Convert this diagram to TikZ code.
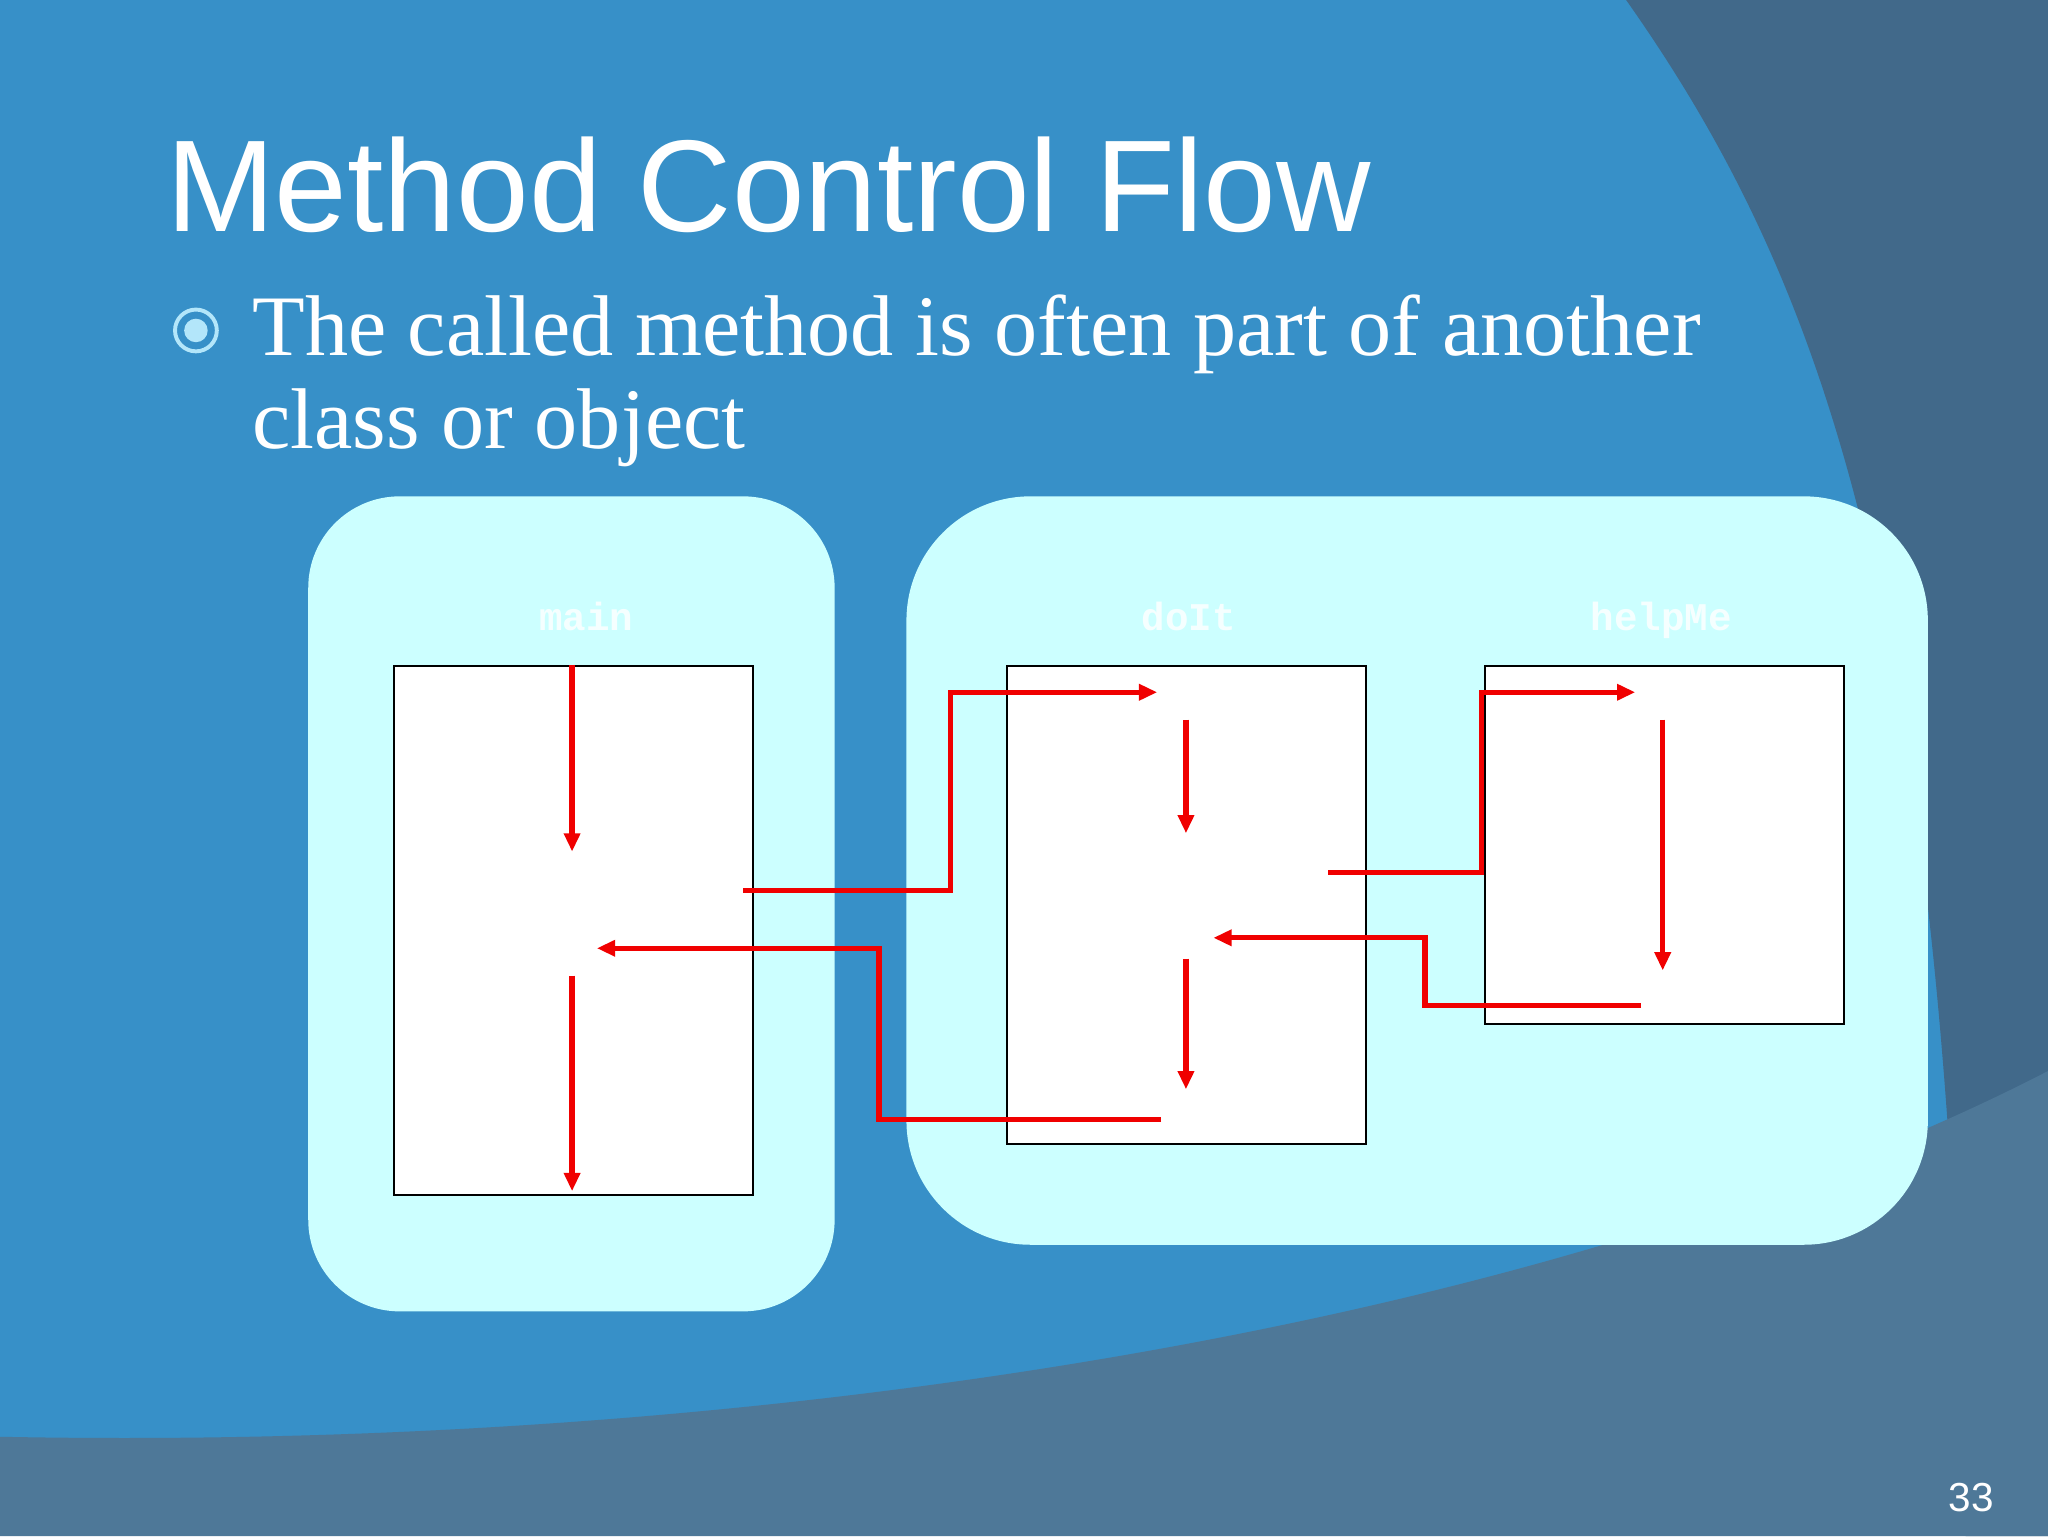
\documentclass[tikz,border=0pt]{standalone}
\usepackage{fontspec}
\setmainfont{Liberation Serif}
\setsansfont{Liberation Sans}
\setmonofont{Liberation Mono}
\usetikzlibrary{arrows.meta}
\definecolor{bgblue}{HTML}{3790C8}
\definecolor{slate}{HTML}{41698A}
\definecolor{lowband}{HTML}{4E7898}
\definecolor{pale}{HTML}{CCFFFF}
\definecolor{flow}{HTML}{F00000}
\tikzset{
 group/.style={fill=pale,draw=none},
 method/.style={draw=black,fill=white,line width=1.5pt,minimum width=275pt,anchor=north west,inner sep=0pt},
 flowline/.style={draw=flow,line width=4pt},
 flowarrow/.style={flowline,-{Triangle[length=14pt,width=12pt]}},
 lbl/.style={anchor=base,font=\ttfamily\bfseries\fontsize{30}{30}\selectfont,text=white!80!pale},
 bodytxt/.style={anchor=base west,font=\fontsize{66}{71}\selectfont,text=white,inner sep=0pt}
}
\begin{document}
\begin{tikzpicture}[x=1pt,y=-1pt]
\useasboundingbox (0,0) rectangle (1568,1176);
\fill[bgblue] (0,0) rectangle (1568,1176);
\fill[slate] (1245,0) .. controls (1400,220) and (1490,480) .. (1505,1176) -- (1568,1176) -- (1568,0) -- cycle;
\fill[lowband] (0,1100) .. controls (600,1112) and (1200,1010) .. (1568,820) -- (1568,1176) -- (0,1176) -- cycle;
\node[anchor=base west,font=\sffamily\fontsize{100}{100}\selectfont,text=white,inner sep=0pt] (title) at (127,177) {Method Control Flow};
\draw[line width=3pt,draw=cyan!30!white] (150,253) circle (16);
\fill[cyan!30!white] (150,253) circle (9);
\node[bodytxt] (body1) at (193,272) {The called method is often part of another};
\node[bodytxt] (body2) at (193,343) {class or object};
\node[anchor=base east,font=\sffamily\fontsize{31}{31}\selectfont,text=white] (pg) at (1530,1157) {33};
\fill[group] (236,380) [rounded corners=70pt] rectangle (639,1004);
\fill[group] (694,380) [rounded corners=95pt] rectangle (1476,953);
\node[lbl] (lm) at (449,483) {main};
\node[lbl] (ld) at (910,483) {doIt};
\node[lbl] (lh) at (1272,483) {helpMe};
\node[method,minimum height=405pt] (main) at (301,509) {};
\node[method,minimum height=366pt] (doit) at (770,509) {};
\node[method,minimum height=274pt] (help) at (1136,509) {};
\coordinate (m1) at (438,509); \coordinate (m2) at (438,652);
\coordinate (m3) at (438,747); \coordinate (m4) at (438,912);
\coordinate (c1) at (569,682); \coordinate (c2) at (886,530);
\coordinate (r1) at (889,857); \coordinate (r2) at (457,726);
\coordinate (d1) at (908,551); \coordinate (d2) at (908,638);
\coordinate (d3) at (908,734); \coordinate (d4) at (908,834);
\coordinate (c3) at (1017,668); \coordinate (c4) at (1252,530);
\coordinate (r3) at (1256,770); \coordinate (r4) at (929,718);
\coordinate (h1) at (1273,551); \coordinate (h2) at (1273,743);
\draw[flowarrow] (m1) -- (m2);
\draw[flowarrow] (m3) -- (m4);
\draw[flowarrow] (c1) -- (728,682) -- (728,530) -- (c2);
\draw[flowarrow] (r1) -- (673,857) -- (673,726) -- (r2);
\draw[flowarrow] (d1) -- (d2);
\draw[flowarrow] (d3) -- (d4);
\draw[flowarrow] (c3) -- (1134,668) -- (1134,530) -- (c4);
\draw[flowarrow] (r3) -- (1091,770) -- (1091,718) -- (r4);
\draw[flowarrow] (h1) -- (h2);
\end{tikzpicture}
\end{document}
